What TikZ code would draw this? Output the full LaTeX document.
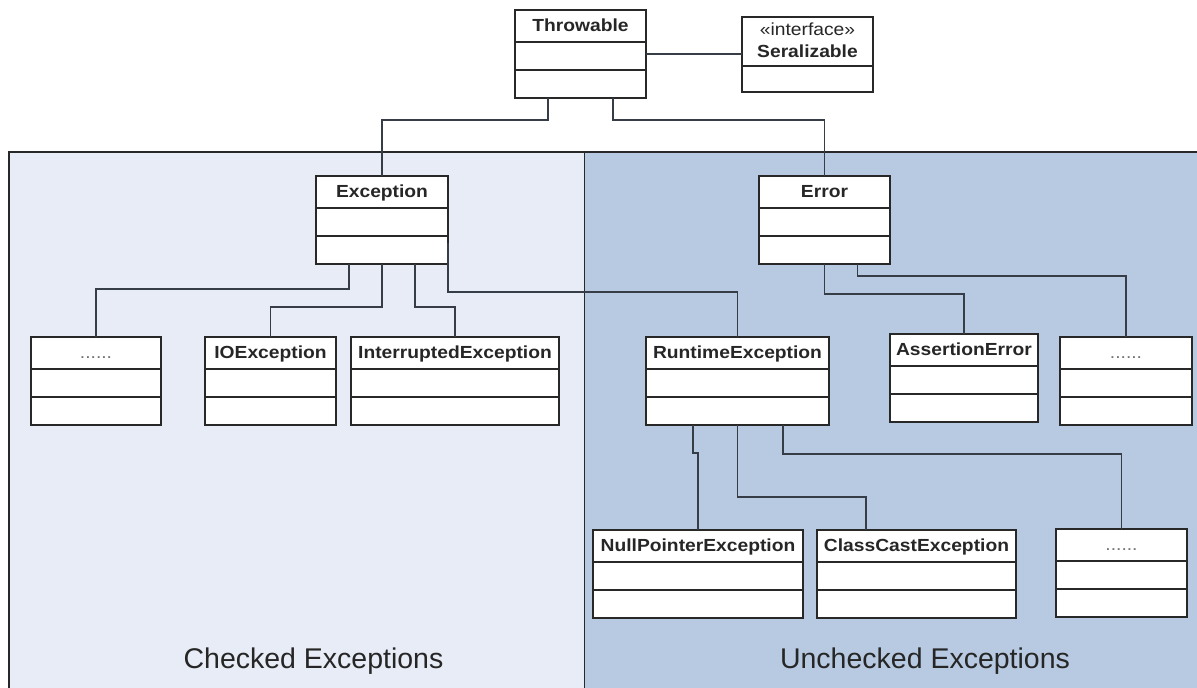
\documentclass[tikz,border=0pt]{standalone}
\usepackage{fontspec}
\setmainfont{Liberation Sans}
\usepackage{graphicx}

\definecolor{chkfill}{RGB}{232,236,246}
\definecolor{unchkfill}{RGB}{183,202,226}
\definecolor{wire}{RGB}{55,61,71}
\definecolor{edge}{RGB}{40,40,40}

\tikzset{
  cls/.style={draw=edge, fill=white, line width=1.7pt, inner sep=0pt, outer sep=0pt, anchor=north west},
  hdr/.style={inner sep=0pt, anchor=base, font=\fontsize{17.5}{20}\selectfont\bfseries, text=black!85},
  stereo/.style={inner sep=0pt, anchor=base, font=\fontsize{17.5}{20}\selectfont, text=black!85},
  conn/.style={draw=wire, line width=1.9pt},
  panel/.style={draw=edge, line width=1.5pt},
  zone/.style={inner sep=0pt, anchor=base, font=\fontsize{28.5}{32}\selectfont, text=black!85},
}

% class box with a name compartment and two empty compartments
\newcommand\umlclass[5]{% name, left, top, right, label
  \node[cls, minimum width={#4-#2}, minimum height=88] (#1) at (#2,#3) {};
  \draw[draw=edge, line width=1.2pt]
    ([yshift=-32pt]#1.north west) -- ([yshift=-32pt]#1.north east)
    ([yshift=-60pt]#1.north west) -- ([yshift=-60pt]#1.north east);
  \node[hdr] (#1-name) at ([yshift=-21pt]#1.north) {\scalebox{1.1}[1]{#5}};
}
\newcommand\more{\mdseries\color{black!55}......}

\begin{document}
\begin{tikzpicture}[x=1pt,y=-1pt]
  \useasboundingbox (0,0) rectangle (1197,688);
  \fill[white] (0,0) rectangle (1197,688);
  \clip (0,0) rectangle (1197,688);

  % the two regions
  \fill[chkfill] (9,152) rectangle (584.5,700);
  \fill[unchkfill] (584.5,152) rectangle (1210,700);
  \draw[panel] (9,700) -- (9,152) -- (1210,152);
  \draw[panel] (584.5,152) -- (584.5,700);

  \node[zone] (chk) at (313.5,668) {Checked Exceptions};
  \node[zone] (unchk) at (925,668) {Unchecked Exceptions};

  % classes
  \umlclass{thr}{515}{10}{646}{Throwable}
  \node[cls, minimum width=131, minimum height=75] (ser) at (742,17) {};
  \draw[draw=edge, line width=1.2pt] ([yshift=-49pt]ser.north west) -- ([yshift=-49pt]ser.north east);
  \node[stereo] (ser-st) at ([yshift=-18pt]ser.north) {\scalebox{1.1}[1]{«interface»}};
  \node[hdr] (ser-name) at ([yshift=-40pt]ser.north) {\scalebox{1.1}[1]{Seralizable}};

  \umlclass{exc}{316}{176}{448}{Exception}
  \umlclass{err}{759}{176}{890}{Error}

  \umlclass{dl}{31}{337}{161}{\more}
  \umlclass{io}{205}{337}{336}{IOException}
  \umlclass{intr}{351}{337}{559}{InterruptedException}
  \umlclass{rt}{646}{337}{829}{RuntimeException}
  \umlclass{ae}{890}{334}{1038}{AssertionError}
  \umlclass{ed}{1060}{337}{1192}{\more}

  \umlclass{npe}{593}{530}{803}{NullPointerException}
  \umlclass{cce}{817}{530}{1016}{ClassCastException}
  \umlclass{rd}{1056}{529}{1187}{\more}

  % inheritance connectors
  \draw[conn] (thr.east) -- (thr.east -| ser.west);
  \draw[conn] ([xshift=-32.5pt]thr.south) -- ++(0,22) -| (exc.north);
  \draw[conn] ([xshift=32.5pt]thr.south) -- ++(0,22) -| (err.north);

  \draw[conn] ([xshift=-33pt]exc.south) -- ++(0,25) -| (dl.north);
  \draw[conn] (exc.south) -- ++(0,43) -| (io.north);
  \draw[conn] ([xshift=33pt]exc.south) -- ++(0,43) -| (intr.north);
  \draw[conn] ([yshift=21pt]exc.south east) -- ++(0,49) -| (rt.north);

  \draw[conn] (err.south) -- ++(0,30) -| (ae.north);
  \draw[conn] ([xshift=33pt]err.south) -- ++(0,12) -| (ed.north);

  \draw[conn] ([xshift=-44.5pt]rt.south) -- ++(0,28) -| (npe.north);
  \draw[conn] (rt.south) -- ++(0,72) -| ([xshift=-50.5pt]cce.north);
  \draw[conn] ([xshift=45.5pt]rt.south) -- ++(0,29) -| (rd.north);
\end{tikzpicture}
\end{document}
